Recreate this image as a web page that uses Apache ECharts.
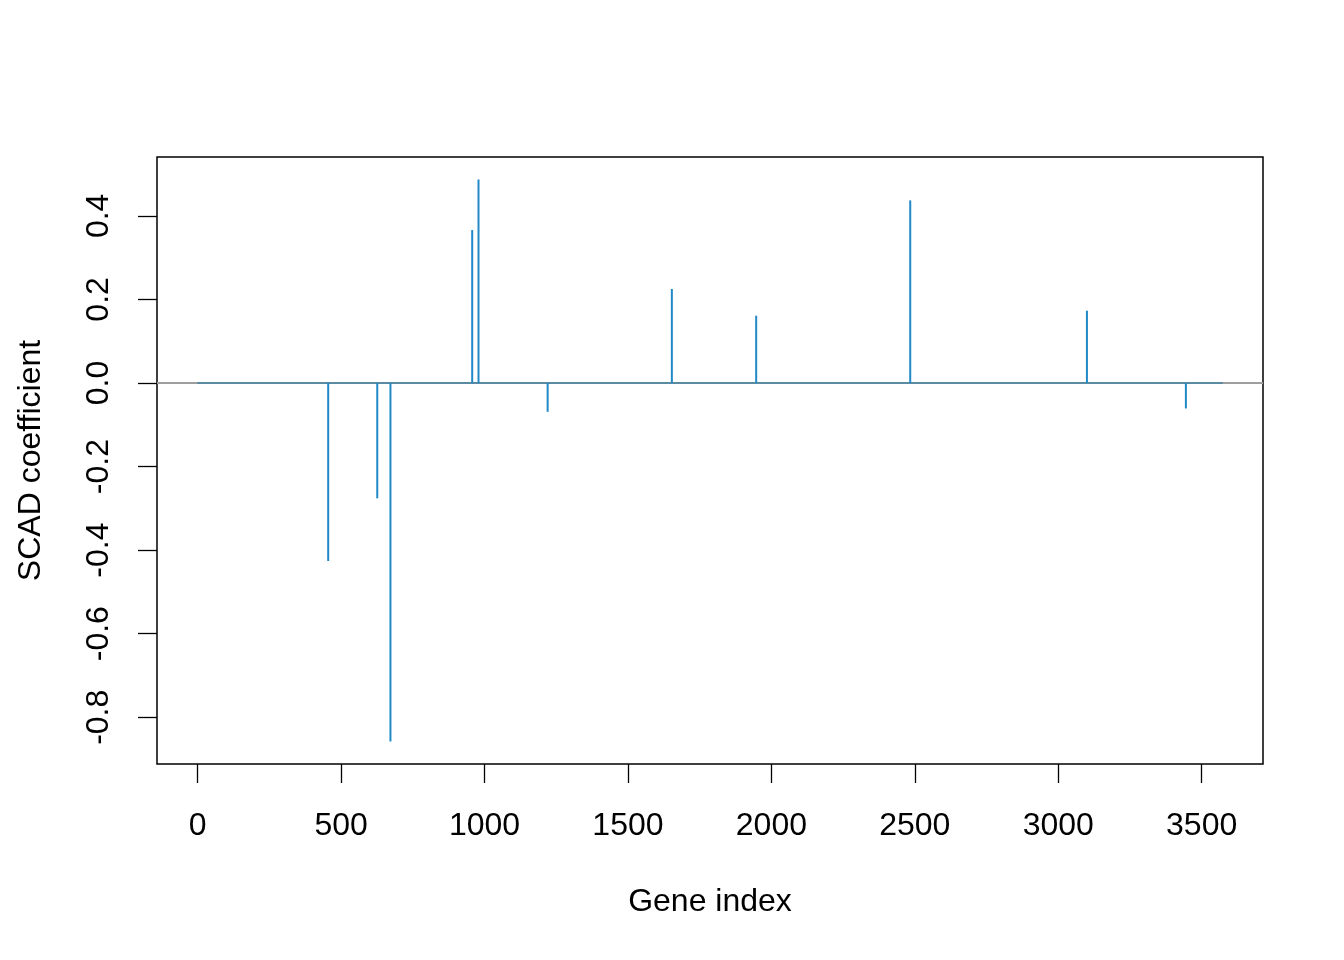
<!DOCTYPE html>
<html>
<head>
<meta charset="utf-8">
<script src="https://cdn.jsdelivr.net/npm/echarts@6/dist/echarts.min.js"></script>
<style>
  html, body { margin: 0; padding: 0; background: #fff; }
  #chart { width: 1344px; height: 960px; }
</style>
</head>
<body>
<div id="chart"></div>
<script>
// ---- data ----
const nGenes = 3571;
const geneIdx = [455, 626, 672, 957, 979, 1220, 1653, 1947, 2484, 3100, 3445];
const coef = [-0.426, -0.276, -0.858, 0.366, 0.487, -0.069, 0.225, 0.161, 0.437, 0.173, -0.061];
const xTicks = [0, 500, 1000, 1500, 2000, 2500, 3000, 3500];
const yTicks = [-0.8, -0.6, -0.4, -0.2, 0.0, 0.2, 0.4];

// R-style 4% padding around data range
const xPad = 0.04 * (nGenes - 1);
const xMin = 1 - xPad, xMax = nGenes + xPad;
const yMinD = Math.min(0, ...coef), yMaxD = Math.max(0, ...coef);
const yPad = 0.04 * (yMaxD - yMinD);

const FONT = 'Liberation Sans, Arial, Helvetica, sans-serif';
const spikeColor = '#2189C6';

const chart = echarts.init(document.getElementById('chart'), null, { renderer: 'canvas' });
chart.setOption({
  animation: false,
  backgroundColor: '#ffffff',
  grid: {
    left: 157, right: 81, top: 157, bottom: 196,
    show: true, borderColor: '#000', borderWidth: 1.5, backgroundColor: 'transparent'
  },
  xAxis: {
    type: 'value',
    min: xMin,
    max: xMax,
    axisLine: { show: false, onZero: false },
    splitLine: { show: false },
    axisTick: { show: true, customValues: xTicks, length: 19, lineStyle: { color: '#000', width: 1.3 } },
    axisLabel: {
      customValues: xTicks, margin: 46, fontSize: 32, color: '#000', fontFamily: FONT,
      formatter: v => String(v)
    },
    name: 'Gene index',
    nameLocation: 'middle',
    nameGap: 122,
    nameTextStyle: { fontSize: 32, color: '#000', fontFamily: FONT }
  },
  yAxis: {
    type: 'value',
    min: yMinD - yPad,
    max: yMaxD + yPad,
    axisLine: { show: false, onZero: false },
    splitLine: { show: false },
    axisTick: { show: true, customValues: yTicks, length: 19, lineStyle: { color: '#000', width: 1.3 } },
    axisLabel: {
      customValues: yTicks, margin: 42, fontSize: 32, color: '#000', fontFamily: FONT, rotate: 90,
      formatter: v => Number(v).toFixed(1)
    },
    name: 'SCAD coefficient',
    nameLocation: 'middle',
    nameGap: 110,
    nameRotate: 90,
    nameTextStyle: { fontSize: 32, color: '#000', fontFamily: FONT }
  },
  series: [
    {
      // grey horizontal reference line at 0 across the whole plot
      type: 'line',
      data: [[xMin, 0], [xMax, 0]],
      symbol: 'none',
      silent: true,
      z: 1,
      lineStyle: { color: '#9E9E9E', width: 2 }
    },
    {
      // zero-height spikes of all genes (shows as a line along 0)
      type: 'line',
      data: [[1, 0], [nGenes, 0]],
      symbol: 'none',
      silent: true,
      z: 2,
      lineStyle: { color: '#5B8BA2', width: 2, cap: 'round' }
    },
    {
      type: 'custom',
      z: 3,
      data: geneIdx.map((g, i) => [g, coef[i]]),
      encode: { x: 0, y: 1 },
      renderItem: (params, api) => {
        const p0 = api.coord([api.value(0), 0]);
        const p1 = api.coord([api.value(0), api.value(1)]);
        return {
          type: 'line',
          shape: { x1: p0[0], y1: p0[1], x2: p1[0], y2: p1[1] },
          style: { stroke: spikeColor, lineWidth: 2 }
        };
      }
    }
  ]
});
</script>
</body>
</html>
